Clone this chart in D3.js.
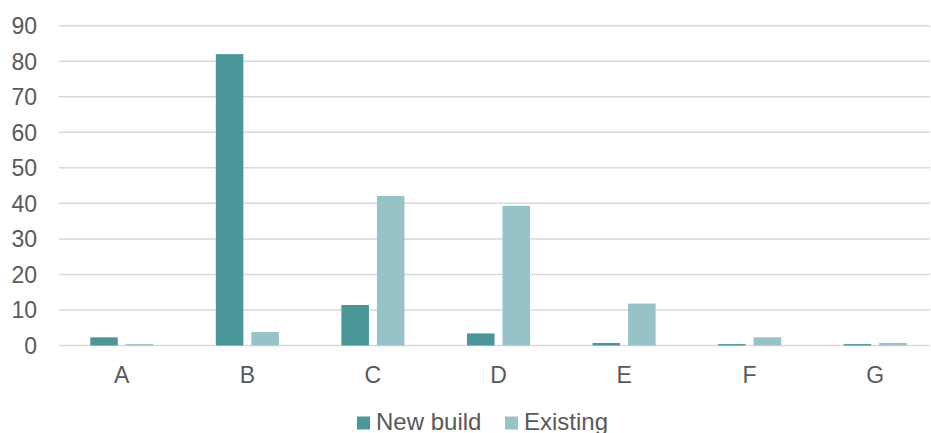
<!DOCTYPE html>
<html><head><meta charset="utf-8">
<script src="https://cdn.jsdelivr.net/npm/d3@7"></script>
<style>body{margin:0;background:#fff}svg{display:block}text{font-family:"Liberation Sans",Arial,sans-serif;fill:#595959}</style>
</head><body>
<script>
const categories = ["A","B","C","D","E","F","G"];
const seriesNames = ["New build","Existing"];
const newBuild = [2.3, 82, 11.4, 3.4, 0.7, 0.4, 0.4];
const existing = [0.4, 3.8, 42.1, 39.3, 11.8, 2.3, 0.7];
const yTicks = [0,10,20,30,40,50,60,70,80,90];
const colors = ["#4a9699","#97c3c8"];

const W = 931, H = 433;
const svg = d3.select("body").append("svg").attr("width", W).attr("height", H);
const x = d3.scaleBand().domain(categories).range([59, 938]);
const y = d3.scaleLinear().domain([0, 90]).range([345.5, 25.7]);
const xs = d3.scaleBand().domain(seriesNames).range([0, x.bandwidth()]).paddingInner(0.225).paddingOuter(0.88);

// gridlines
svg.append("g").selectAll("line").data(yTicks).join("line")
  .attr("x1", 59).attr("x2", 930)
  .attr("y1", d => y(d)).attr("y2", d => y(d))
  .attr("stroke", "#d9d9d9").attr("stroke-width", 1.5);

// y labels
svg.append("g").selectAll("text").data(yTicks).join("text")
  .attr("x", 37).attr("y", d => y(d)).attr("dy", "0.36em")
  .attr("text-anchor", "end").attr("font-size", 23).text(d => d);

const data = [newBuild, existing];
data.forEach((vals, si) => {
  svg.append("g").selectAll("rect").data(categories).join("rect")
    .attr("x", c => x(c) + xs(seriesNames[si]))
    .attr("width", xs.bandwidth())
    .attr("y", (c, i) => y(vals[i]))
    .attr("height", (c, i) => y(0) - y(vals[i]))
    .attr("fill", colors[si]);
});

// x labels
svg.append("g").selectAll("text").data(categories).join("text")
  .attr("x", c => x(c) + x.bandwidth() / 2).attr("y", 382.5)
  .attr("text-anchor", "middle").attr("font-size", 23).text(c => c);

// legend
const legX = [357, 505];
seriesNames.forEach((s, i) => {
  svg.append("rect").attr("x", legX[i]).attr("y", 416.5).attr("width", 13).attr("height", 13).attr("fill", colors[i]);
  svg.append("text").attr("x", legX[i] + 19).attr("y", 430).attr("font-size", 24).text(s);
});
</script>
</body></html>
